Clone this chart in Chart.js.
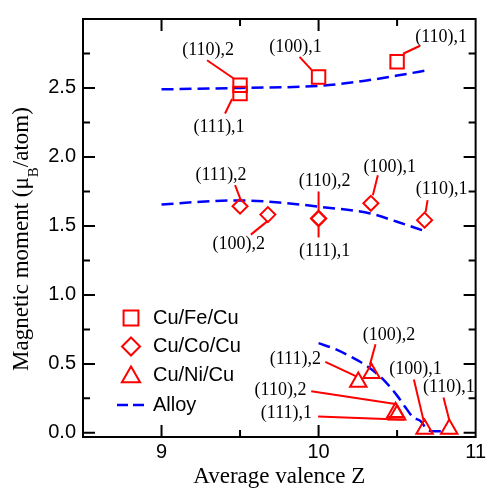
<!DOCTYPE html>
<html><head><meta charset="utf-8">
<script src="https://cdn.jsdelivr.net/npm/chart.js@4.4.0/dist/chart.umd.min.js"></script>
<style>html,body{margin:0;padding:0;background:#fff;}</style>
</head><body>
<canvas id="c" width="489" height="491"></canvas>
<script>
// ---------- data ----------
const X_MIN = 8.5, X_MAX = 11, Y_MIN = -0.03, Y_MAX = 3.0;
const SERIES_NAMES = ['Cu/Fe/Cu', 'Cu/Co/Cu', 'Cu/Ni/Cu', 'Alloy'];

const FE_LABELS = ['(110),2', '(111),1', '(100),1', '(110),1'];
const FE_Z = [9.5, 9.5, 10.0, 10.5];
const FE_M = [2.52, 2.46, 2.58, 2.69];

const CO_LABELS = ['(111),2', '(100),2', '(110),2', '(111),1', '(100),1', '(110),1'];
const CO_Z = [9.5, 9.677, 10.0, 10.0, 10.333, 10.675];
const CO_M = [1.643, 1.582, 1.554, 1.554, 1.664, 1.542];

const NI_LABELS = ['(111),2', '(100),2', '(110),2', '(111),1', '(100),1', '(110),1'];
const NI_Z = [10.253, 10.337, 10.49, 10.5, 10.675, 10.832];
const NI_M = [0.369, 0.432, 0.149, 0.131, 0.0275, 0.0275];

const ALLOY_FE_Z = [9.0, 9.5, 10.0, 10.25, 10.5, 10.7];
const ALLOY_FE_M = [2.49, 2.50, 2.515, 2.545, 2.59, 2.63];
const ALLOY_CO_Z = [9.0, 9.25, 9.5, 9.75, 10.0, 10.33, 10.5, 10.67];
const ALLOY_CO_M = [1.655, 1.675, 1.685, 1.67, 1.64, 1.59, 1.53, 1.465];
const ALLOY_NI_Z = [10.0, 10.1, 10.2, 10.3, 10.4, 10.5, 10.55, 10.6, 10.65, 10.68, 10.72, 10.78];
const ALLOY_NI_M = [0.65, 0.61, 0.555, 0.49, 0.40, 0.27, 0.19, 0.115, 0.085, 0.04, 0.012, 0.012];

// ---------- annotation layout (pixel offsets from each marker: text dx,dy, leader start dx,dy, leader end dx,dy) ----------
const FE_LABEL_POS = [[-32,-35,-33,-25,-6,-6.5],[-21,34,-15,20,-8,5.5],[-23,-30,-19,-20,-7,-7],[44,-25,23,-16,6,-8]];
const CO_LABEL_POS = [[-19,-31,-5,-21,0,-8],[-29,30,-17,20,-1,7],[6,-37,0,-27,0,-8],[6,33,0,8,0,19],[19,-36,7,-28,2,-8],[17,-31,3,-20,1,-8]];
const NI_LABEL_POS = [[-63,-23,-33,-20,-2,-5.6],[17.5,-38.4,4,-29,-1.6,-8.4],[-115,-21.7,-84.3,-21,0,-8.4],[-110.7,-1.8,-79,1.7,7.6,5],[-9,-59.7,-10.7,-49.6,-0.7,-7.2],[-0.4,-41.4,-5.7,-31.6,0,-9]];

const RED = 'rgb(255,0,0)', BLUE = 'rgb(0,0,255)';
const pts = (xs, ys) => xs.map((x, i) => ({x, y: ys[i]}));

function markerSet(name, xs, ys, style, r, labels, layout) {
  return { label: name, data: pts(xs, ys), showLine: false, pointStyle: style, pointRadius: r,
    pointBorderColor: RED, pointBackgroundColor: 'rgba(0,0,0,0)', pointBorderWidth: 2,
    annLabels: labels, annLayout: layout };
}
function alloySet(xs, ys) {
  return { label: 'Alloy', data: pts(xs, ys), showLine: true, pointRadius: 0, borderColor: BLUE,
    borderWidth: 2.5, borderDash: [12, 6], tension: 0.4, cubicInterpolationMode: 'monotone', fill: false };
}

function drawMarker(ctx, style, x, y, r) {
  ctx.beginPath();
  if (style === 'rect') { const s = r * Math.SQRT1_2; ctx.rect(x - s, y - s, 2 * s, 2 * s); }
  else if (style === 'rectRot') { ctx.moveTo(x, y - r); ctx.lineTo(x + r, y); ctx.lineTo(x, y + r); ctx.lineTo(x - r, y); ctx.closePath(); }
  else { ctx.moveTo(x, y - r); ctx.lineTo(x + r * Math.sin(2*Math.PI/3), y - r * Math.cos(2*Math.PI/3)); ctx.lineTo(x + r * Math.sin(4*Math.PI/3), y - r * Math.cos(4*Math.PI/3)); ctx.closePath(); }
  ctx.stroke();
}

const annotations = {
  id: 'annotations',
  afterDatasetsDraw(chart) {
    const ctx = chart.ctx;
    ctx.save();
    ctx.strokeStyle = RED; ctx.lineWidth = 2; ctx.fillStyle = '#000';
    ctx.font = '18px "Liberation Serif", "Times New Roman", serif';
    ctx.textAlign = 'center'; ctx.textBaseline = 'middle';
    chart.data.datasets.forEach((ds, di) => {
      if (!ds.annLabels) return;
      const meta = chart.getDatasetMeta(di);
      meta.data.forEach((el, i) => {
        const L = ds.annLayout[i];
        ctx.beginPath();
        ctx.moveTo(el.x + L[2], el.y + L[3]);
        ctx.lineTo(el.x + L[4], el.y + L[5]);
        ctx.stroke();
        ctx.fillText(ds.annLabels[i], el.x + L[0], el.y + L[1]);
      });
    });
    ctx.restore();
  }
};

const frame = {
  id: 'frame',
  afterDraw(chart) {
    const {ctx, chartArea: a, scales: {x, y}} = chart;
    ctx.save();
    ctx.strokeStyle = '#000'; ctx.lineWidth = 2;
    ctx.strokeRect(a.left, a.top, a.right - a.left, a.bottom - a.top);
    ctx.beginPath();
    x.ticks.forEach(t => {
      const v = t.value; if (v <= x.min + 1e-9 || v >= x.max - 1e-9) return;
      const p = x.getPixelForValue(v); const len = Math.abs(v - Math.round(v)) < 1e-6 ? 12 : 7;
      ctx.moveTo(p, a.bottom); ctx.lineTo(p, a.bottom - len);
      ctx.moveTo(p, a.top); ctx.lineTo(p, a.top + len);
    });
    y.ticks.forEach(t => {
      const v = t.value; if (v < 0 - 1e-9 || v >= y.max - 1e-9) return;
      const p = y.getPixelForValue(v); const len = Math.abs(v * 2 - Math.round(v * 2)) < 1e-6 ? 12 : 7;
      ctx.moveTo(a.left, p); ctx.lineTo(a.left + len, p);
      ctx.moveTo(a.right, p); ctx.lineTo(a.right - len, p);
    });
    ctx.stroke();
    // y-axis title with subscript
    const big = '23px "Liberation Serif", "Times New Roman", serif';
    const small = '15px "Liberation Serif", "Times New Roman", serif';
    const parts = [['Magnetic moment (\u03BC', big, 0], ['B', small, 10], ['/atom)', big, 0]];
    let total = 0;
    parts.forEach(p => { ctx.font = p[1]; p.push(ctx.measureText(p[0]).width); total += p[3]; });
    ctx.translate(28, a.top + 220);
    ctx.rotate(-Math.PI / 2);
    ctx.fillStyle = '#000'; ctx.textBaseline = 'alphabetic'; ctx.textAlign = 'left';
    let cx = -total / 2;
    parts.forEach(p => { ctx.font = p[1]; ctx.fillText(p[0], cx, p[2]); cx += p[3]; });
    ctx.restore();

    // legend
    ctx.save();
    const lx = a.left + 48, tx = a.left + 70;
    const rows = [a.top + 299, a.top + 327.5, a.top + 356, a.top + 386];
    const styles = ['rect', 'rectRot', 'triangle'];
    const radii = [10.5, 9, 10.5];
    ctx.strokeStyle = RED; ctx.lineWidth = 2;
    styles.forEach((s, i) => drawMarker(ctx, s, lx, rows[i] + (s === 'triangle' ? 2 : 0), radii[i]));
    ctx.strokeStyle = BLUE; ctx.lineWidth = 2.5; ctx.setLineDash([11, 5]);
    ctx.beginPath(); ctx.moveTo(lx - 14, rows[3]); ctx.lineTo(lx + 14, rows[3]); ctx.stroke();
    ctx.setLineDash([]);
    ctx.fillStyle = '#000'; ctx.font = '20px "Liberation Sans", Arial, sans-serif';
    ctx.textAlign = 'left'; ctx.textBaseline = 'middle';
    SERIES_NAMES.forEach((n, i) => ctx.fillText(n, tx, rows[i]));
    ctx.restore();
  }
};

new Chart(document.getElementById('c'), {
  type: 'scatter',
  data: {
    datasets: [
      markerSet(SERIES_NAMES[0], FE_Z, FE_M, 'rect', 9.5, FE_LABELS, FE_LABEL_POS),
      markerSet(SERIES_NAMES[1], CO_Z, CO_M, 'rectRot', 7.5, CO_LABELS, CO_LABEL_POS),
      markerSet(SERIES_NAMES[2], NI_Z, NI_M, 'triangle', 9.5, NI_LABELS, NI_LABEL_POS),
      alloySet(ALLOY_FE_Z, ALLOY_FE_M),
      alloySet(ALLOY_CO_Z, ALLOY_CO_M),
      alloySet(ALLOY_NI_Z, ALLOY_NI_M)
    ]
  },
  options: {
    responsive: false, devicePixelRatio: 1, animation: false,
    layout: { padding: { top: 9, right: 11, left: 0, bottom: 0 } },
    plugins: { legend: { display: false }, tooltip: { enabled: false } },
    scales: {
      x: {
        type: 'linear', min: X_MIN, max: X_MAX,
        grid: { display: false, drawTicks: false }, border: { display: false },
        ticks: { stepSize: 0.5, includeBounds: false, autoSkip: false, maxRotation: 0, padding: 3, color: '#000',
          font: { family: '"Liberation Sans", Arial, sans-serif', size: 20 },
          callback: v => Math.abs(v - Math.round(v)) < 1e-6 ? String(Math.round(v)) : '' },
        title: { display: true, text: 'Average valence Z', color: '#000', padding: { top: 0, bottom: 0 },
          font: { family: '"Liberation Serif", "Times New Roman", serif', size: 23 } },
        afterFit: s => { s.height = 54; }
      },
      y: {
        type: 'linear', min: Y_MIN, max: Y_MAX,
        grid: { display: false, drawTicks: false }, border: { display: false },
        ticks: { stepSize: 0.25, includeBounds: false, autoSkip: false, padding: 7, color: '#000',
          font: { family: '"Liberation Sans", Arial, sans-serif', size: 20 },
          callback: v => (v >= -1e-6 && v <= 2.5 + 1e-6 && Math.abs(v * 2 - Math.round(v * 2)) < 1e-6) ? v.toFixed(1) : '' },
        afterFit: s => { s.width = 83; }
      }
    }
  },
  plugins: [annotations, frame]
});
</script>
</body></html>
